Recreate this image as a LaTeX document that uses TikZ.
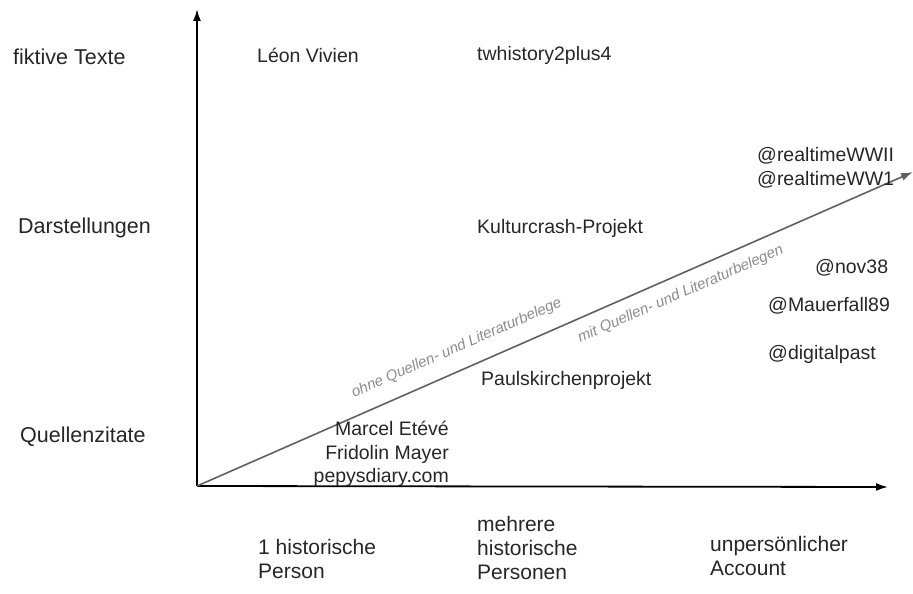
\documentclass[tikz,border=0pt]{standalone}
\usepackage{fontspec}
\setmainfont{Liberation Sans}
\usetikzlibrary{arrows.meta}

\tikzset{
  achse/.style={line width=1.8pt,-{Latex[length=12pt,width=8pt]}},
  kat/.style={anchor=west,inner sep=0pt,text=black!85,font=\fontsize{21.5}{25}\selectfont},
  eintrag/.style={anchor=west,inner sep=0pt,align=left,text=black!85,font=\fontsize{19.5}{23.5}\selectfont},
  unten/.style={eintrag,font=\fontsize{21}{24}\selectfont},
  beleg/.style={text=gray!90,sloped,inner sep=0pt,font=\fontsize{15}{17}\selectfont\itshape}
}

\begin{document}
\begin{tikzpicture}[x=1pt,y=-1pt]
    \useasboundingbox (0,0) rectangle (913,594);
    \coordinate (O) at (197,486);
    \coordinate (ytop) at (197,9);
    \coordinate (xend) at (888,487);
    \coordinate (dend) at (913,172);
    % Achsen
    \draw[achse] (O) -- (ytop);
    \draw[achse] (O) -- (xend);
    % Diagonale
    \draw[achse,gray!75!black,line width=1.6pt] (O) -- (dend)
        node[beleg,pos=0.375,above=14pt] (ohne) {ohne Quellen- und Literaturbelege}
        node[beleg,pos=0.665,below=11pt] (mit) {mit Quellen- und Literaturbelegen};
    % Kategorien links
    \node[kat] (fikt) at (13,57) {fiktive Texte};
    \node[kat] (darst) at (18,228) {Darstellungen};
    \node[kat] (quell) at (20,437) {Quellenzitate};
    % Beispiele
    \node[eintrag] (leon) at (257,55) {Léon Vivien};
    \node[eintrag] (twh) at (477,55) {twhistory2plus4};
    \node[eintrag] (rt) at (757,168) {@realtimeWWII\\@realtimeWW1};
    \node[eintrag] (kult) at (477,228) {Kulturcrash-Projekt};
    \node[eintrag] (nov) at (815,268) {@nov38};
    \node[eintrag] (mauer) at (768,306) {@Mauerfall89};
    \node[eintrag] (digi) at (768,354) {@digitalpast};
    \node[eintrag] (pauls) at (481,380) {Paulskirchenprojekt};
    \node[eintrag,anchor=east,align=right] (marcel) at (449,454) {Marcel Etévé\\Fridolin Mayer\\pepysdiary.com};
    % Achsenbeschriftung unten
    \node[unten] (eine) at (258,559) {1 historische\\Person};
    \node[unten] (mehr) at (477,548) {mehrere\\historische\\Personen};
    \node[unten] (acc) at (710,556) {unpersönlicher\\Account};
\end{tikzpicture}
\end{document}
